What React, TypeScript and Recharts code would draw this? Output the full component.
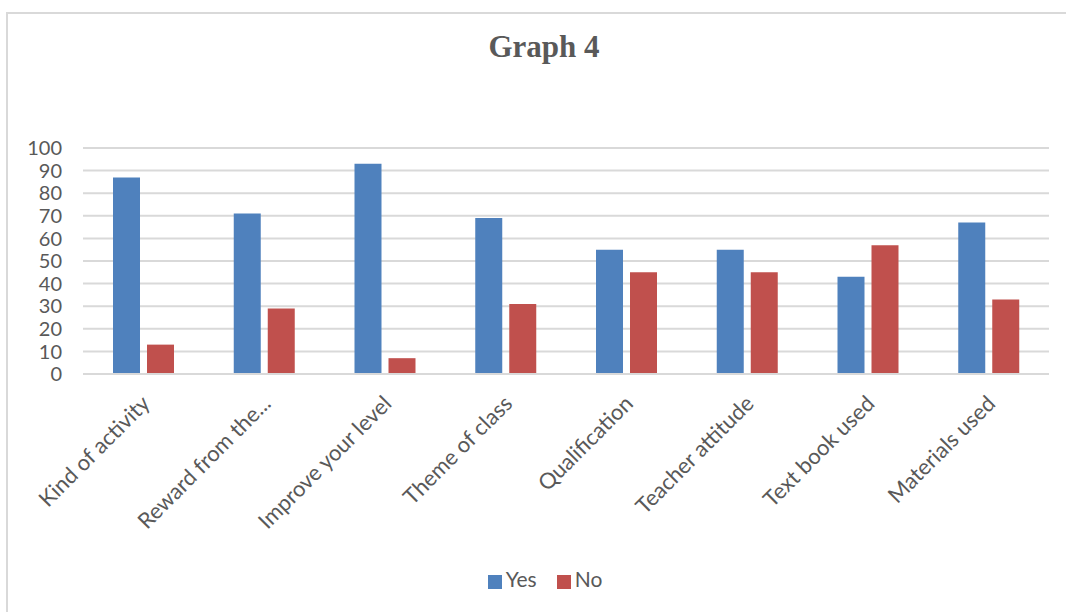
import { Bar, BarChart, CartesianGrid, Legend, XAxis, YAxis } from "recharts";

const categories = [
  "Kind of activity",
  "Reward from the...",
  "Improve your level",
  "Theme of class",
  "Qualification",
  "Teacher attitude",
  "Text book used",
  "Materials used",
];
const yesValues = [87, 71, 93, 69, 55, 55, 43, 67];
const noValues = [13, 29, 7, 31, 45, 45, 57, 33];
const yTicks = [0, 10, 20, 30, 40, 50, 60, 70, 80, 90, 100];
const seriesOrder = ["Yes", "No"];

const data = categories.map((name, i) => ({ name, Yes: yesValues[i], No: noValues[i] }));

const FONT = "Lato, 'Noto Sans', sans-serif";
const TEXT = "#595959";

function CategoryTick({ x, y, payload }: any) {
  const ax = x + 8;
  const ay = y + 31;
  return (
    <text
      x={ax}
      y={ay}
      transform={`rotate(-45, ${ax}, ${ay})`}
      textAnchor="end"
      fill={TEXT}
      fontSize={22}
      fontFamily={FONT}
    >
      {payload.value}
    </text>
  );
}

export default function App() {
  return (
    <div style={{ position: "absolute", left: 0, top: 0, width: 1066, height: 612, background: "#fff", overflow: "hidden" }}>
      {/* chart frame: only the top and left edges fall inside the view */}
      <div
        style={{
          position: "absolute",
          left: 6,
          top: 12,
          width: 1200,
          height: 800,
          border: "2px solid #d9d9d9",
          boxSizing: "border-box",
        }}
      />
      <div
        style={{
          position: "absolute",
          left: 0,
          top: 29,
          width: 1088,
          textAlign: "center",
          fontFamily: "'Liberation Serif', 'Times New Roman', serif",
          fontWeight: "bold",
          fontSize: 31,
          color: TEXT,
        }}
      >
        Graph 4
      </div>
      <div style={{ position: "absolute", left: 0, top: 0 }}>
        <BarChart
          width={1066}
          height={612}
          data={data}
          margin={{ top: 148, right: 17, bottom: 0, left: 0 }}
          barGap={7}
          barSize={27}
        >
          <CartesianGrid vertical={false} stroke="#d9d9d9" strokeWidth={2} />
          <XAxis
            dataKey="name"
            interval={0}
            height={238}
            axisLine={{ stroke: "#d9d9d9", strokeWidth: 2 }}
            tickLine={false}
            tickSize={0}
            tickMargin={0}
            tick={<CategoryTick />}
          />
          <YAxis
            width={83}
            domain={[0, 100]}
            ticks={yTicks}
            interval={0}
            axisLine={false}
            tickLine={false}
            tickSize={0}
            tickMargin={21}
            tick={{ fill: TEXT, fontSize: 20, fontFamily: FONT }}
          />
          <Legend
            layout="horizontal"
            align="center"
            verticalAlign="middle"
            iconType="square"
            iconSize={14}
            itemSorter={(item: any) => seriesOrder.indexOf(item.value)}
            wrapperStyle={{ top: 566, left: 0, width: 1100, fontFamily: FONT, fontSize: 21 }}
            formatter={(value) => (
              <span style={{ color: TEXT, paddingRight: value === "Yes" ? 10 : 0 }}>{value}</span>
            )}
          />
          <Bar dataKey="Yes" fill="#4f81bd" isAnimationActive={false} />
          <Bar dataKey="No" fill="#c0504d" isAnimationActive={false} />
        </BarChart>
      </div>
    </div>
  );
}
